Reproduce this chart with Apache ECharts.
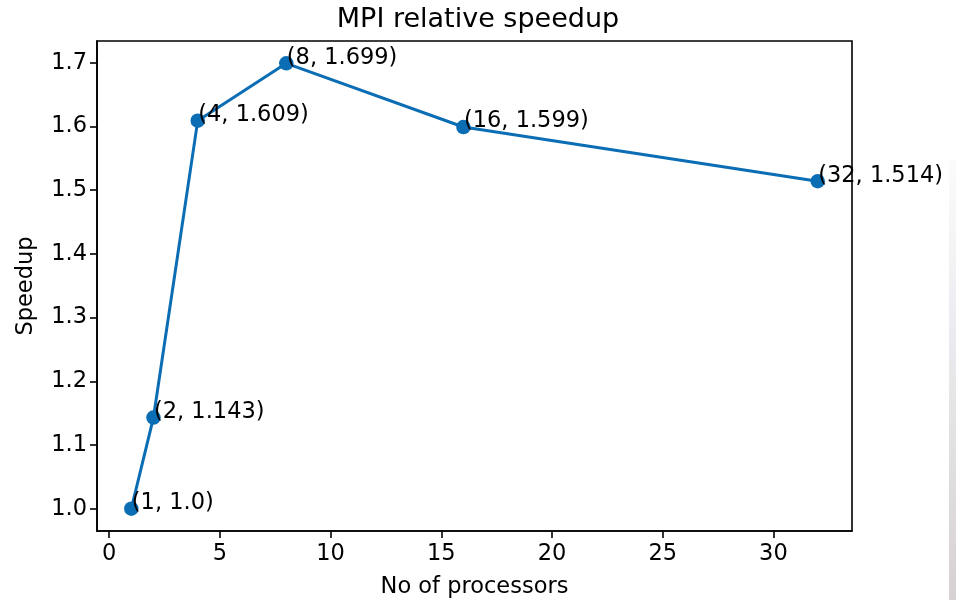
<!DOCTYPE html>
<html>
<head>
<meta charset="utf-8">
<script src="https://cdn.jsdelivr.net/npm/echarts@6/dist/echarts.min.js"></script>
<style>
  html, body { margin: 0; padding: 0; background: #fff; }
  #chart { width: 956px; height: 600px; }
</style>
</head>
<body>
<div id="chart"></div>
<script>
// data
var processors = [1, 2, 4, 8, 16, 32];
var speedup = [1.0, 1.143, 1.609, 1.699, 1.599, 1.514];
var pointLabels = ['(1, 1.0)', '(2, 1.143)', '(4, 1.609)', '(8, 1.699)', '(16, 1.599)', '(32, 1.514)'];
var xTicks = [0, 5, 10, 15, 20, 25, 30];
var yTicks = [1.0, 1.1, 1.2, 1.3, 1.4, 1.5, 1.6, 1.7];

var FONT = 'DejaVu Sans';
var BLUE = '#0b6db4';
var SYM = 14.5;

var chart = echarts.init(document.getElementById('chart'));

var seriesData = processors.map(function (p, i) {
    return { value: [p, speedup[i]], label: { formatter: pointLabels[i] } };
});

var option = {
    backgroundColor: '#fff',
    animation: false,
    title: {
        text: 'MPI relative speedup',
        left: 'center',
        top: 1,
        textStyle: { fontFamily: FONT, fontSize: 27, fontWeight: 'normal', color: '#000' }
    },
    grid: {
        left: 97,
        right: 104,
        top: 41,
        bottom: 69,
        outerBoundsMode: 'none',
        containLabel: false,
        show: true,
        borderColor: '#000',
        borderWidth: 1.6,
        backgroundColor: 'transparent'
    },
    xAxis: {
        type: 'value',
        min: -0.55,
        max: 33.55,
        name: 'No of processors',
        nameLocation: 'middle',
        nameGap: 45,
        nameTextStyle: { fontFamily: FONT, fontSize: 22.5, color: '#000' },
        splitLine: { show: false },
        axisLine: { show: true, onZero: false, lineStyle: { color: '#000', width: 1.6 } },
        axisTick: {
            show: true,
            length: 7,
            customValues: xTicks,
            lineStyle: { color: '#000', width: 1.6 }
        },
        axisLabel: {
            customValues: xTicks,
            margin: 12,
            fontFamily: FONT,
            fontSize: 22.5,
            color: '#000'
        }
    },
    yAxis: {
        type: 'value',
        min: 0.965,
        max: 1.734,
        name: 'Speedup',
        nameLocation: 'middle',
        nameGap: 59,
        nameRotate: 90,
        nameTextStyle: { fontFamily: FONT, fontSize: 22.5, color: '#000' },
        splitLine: { show: false },
        axisLine: { show: true, onZero: false, lineStyle: { color: '#000', width: 1.6 } },
        axisTick: {
            show: true,
            length: 7,
            customValues: yTicks,
            lineStyle: { color: '#000', width: 1.6 }
        },
        axisLabel: {
            customValues: yTicks,
            margin: 10,
            fontFamily: FONT,
            fontSize: 22.5,
            color: '#000',
            formatter: function (v) { return v.toFixed(1); }
        }
    },
    series: [
        {
            type: 'line',
            data: seriesData,
            symbol: 'circle',
            symbolSize: SYM,
            lineStyle: { color: BLUE, width: 3 },
            itemStyle: { color: BLUE },
            label: {
                show: true,
                position: [SYM / 2 + 0.5, SYM / 2 + 6],
                align: 'left',
                verticalAlign: 'bottom',
                fontFamily: FONT,
                fontSize: 22.5,
                color: '#000'
            },
            z: 3
        }
    ],
    graphic: [
        {
            type: 'rect',
            left: 949,
            top: 160,
            shape: { width: 7, height: 440 },
            style: {
                fill: new echarts.graphic.LinearGradient(0, 0, 0, 1, [
                    { offset: 0, color: '#fbfbfd' },
                    { offset: 0.4, color: '#eceaee' },
                    { offset: 1, color: '#d6d2d2' }
                ])
            },
            silent: true
        }
    ]
};

chart.setOption(option);
</script>
</body>
</html>
